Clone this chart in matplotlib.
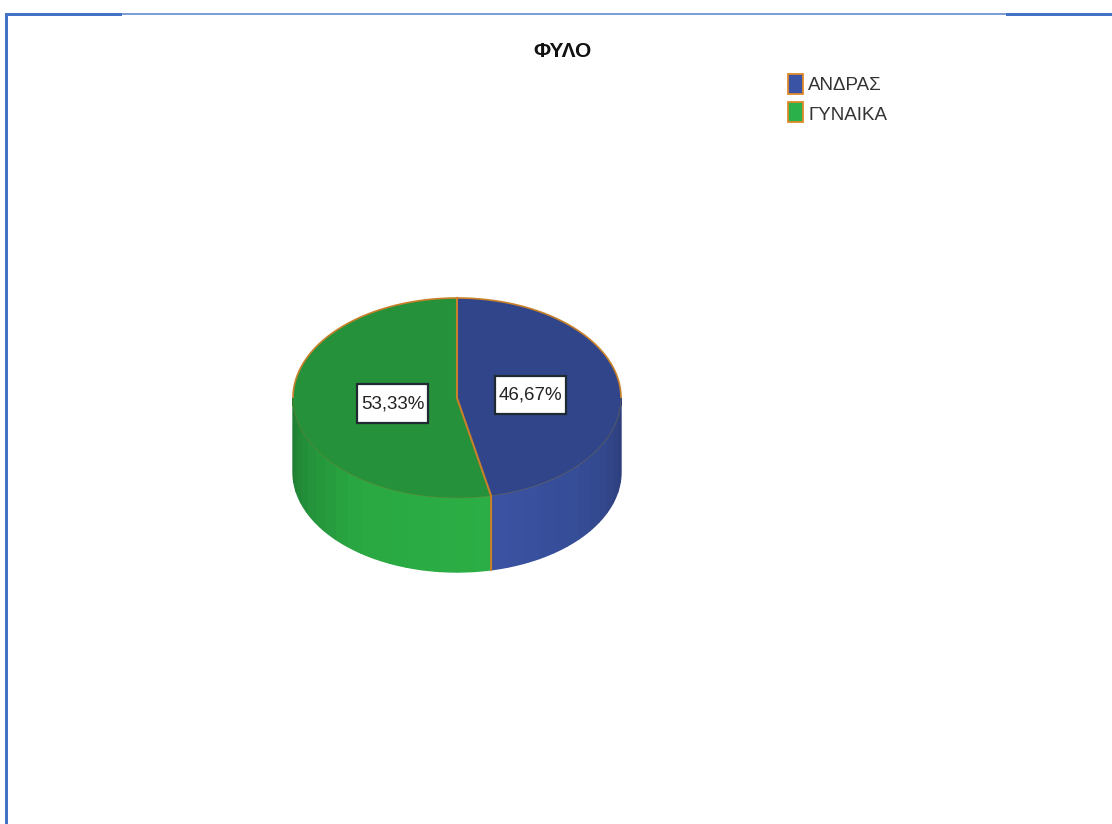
import numpy as np
import matplotlib
matplotlib.use("Agg")
import matplotlib.pyplot as plt
from matplotlib.patches import Polygon, Rectangle

plt.rcParams['font.family'] = ['Liberation Sans', 'DejaVu Sans']

# data
categories = ['ΑΝΔΡΑΣ', 'ΓΥΝΑΙΚΑ']
shares = [46.67, 53.33]

# colours
top_colors = ['#30458a', '#25913a']
legend_colors = ['#3a53a4', '#2bb14a']
edge_orange = '#c8802a'
frame_blue = '#4472c4'
frame_light = '#7c9fd8'

# pie geometry, in figure pixels
cx, cy = 457, 398
rx, ry = 164, 100
depth = 74


def rim(t):
    # point on the top ellipse, t in degrees clockwise from 12 o'clock
    t = np.radians(t)
    return cx + rx * np.sin(t), cy - ry * np.cos(t)


def side_color(t):
    # shading of the wall: dark at both ends, bright near the front
    stops = [90, 130, 168, 168.01, 215, 245, 270]
    r = [0x2c, 0x35, 0x3a, 0x2b, 0x2a, 0x24, 0x1f]
    g = [0x3d, 0x4c, 0x53, 0xae, 0xa8, 0x92, 0x7c]
    b = [0x78, 0x95, 0xa2, 0x45, 0x42, 0x3a, 0x32]
    return (np.interp(t, stops, r) / 255, np.interp(t, stops, g) / 255, np.interp(t, stops, b) / 255)


fig = plt.figure(figsize=(11.12, 8.24), dpi=100)
ax = fig.add_axes([0, 0, 1, 1])
ax.set_xlim(0, 1112)
ax.set_ylim(824, 0)
ax.axis('off')

# slice boundaries from the shares
angles = np.concatenate([[0], np.cumsum(shares) / np.sum(shares) * 360])
split = angles[1]

# side wall, only the front half is visible
edges = np.unique(np.concatenate([np.arange(90, 271, 6), [split]]))
for a, b in zip(edges[:-1], edges[1:]):
    ts = np.linspace(a, b, 6)
    xs, ys = rim(ts)
    pts = np.column_stack([np.r_[xs, xs[::-1]], np.r_[ys, ys[::-1] + depth]])
    c = side_color((a + b) / 2)
    ax.add_patch(Polygon(pts, closed=True, facecolor=c, edgecolor=c, linewidth=1.0))

# top face
for i in range(len(shares)):
    ts = np.linspace(angles[i], angles[i + 1], 120)
    xs, ys = rim(ts)
    pts = np.column_stack([np.r_[cx, xs], np.r_[cy, ys]])
    ax.add_patch(Polygon(pts, closed=True, facecolor=top_colors[i], edgecolor='none'))

# orange outlines
ts = np.linspace(-90, 90, 200)
xs, ys = rim(ts)
ax.plot(xs, ys, color=edge_orange, lw=1.2, solid_capstyle='butt')
sx, sy = rim(split)
ax.plot([cx, cx, sx, sx], [cy - ry, cy, sy, sy + depth], color=edge_orange, lw=1.5)
ts = np.linspace(90, 270, 200)
xs, ys = rim(ts)
ax.plot(xs, ys, color='#8a7a30', lw=0.5, alpha=0.5)

# value boxes
boxes = [(495, 376, 71, 38), (357, 384, 71, 39)]
for val, (bx, by, bw, bh) in zip(shares, boxes):
    ax.add_patch(Rectangle((bx, by), bw, bh, facecolor='white', edgecolor='#1f2a33', lw=1.6, zorder=4))
    label = f'{val:.2f}%'.replace('.', ',')
    ax.text(bx + bw / 2, by + bh / 2, label, ha='center', va='center', fontsize=13.5, color='#222222', zorder=5)

# title
ax.text(562, 51, 'ΦΥΛΟ', ha='center', va='center', fontsize=15, fontweight='bold', color='#111111')

# legend
for i, name in enumerate(categories):
    ax.add_patch(Rectangle((788, 74 + i * 28), 15, 20, facecolor=legend_colors[i], edgecolor='#e08a2a', lw=1.3))
    ax.text(808, 85 + i * 30, name, ha='left', va='center', fontsize=13.5, color='#333333')

# page frame
ax.add_patch(Rectangle((5, 13), 3, 811, facecolor=frame_blue, edgecolor='none'))
ax.add_patch(Rectangle((5, 13), 117, 3, facecolor=frame_blue, edgecolor='none'))
ax.add_patch(Rectangle((1006, 13), 106, 3, facecolor=frame_blue, edgecolor='none'))
ax.add_patch(Rectangle((122, 13), 884, 2, facecolor=frame_light, edgecolor='none'))

fig.savefig('out.png', dpi=100)
